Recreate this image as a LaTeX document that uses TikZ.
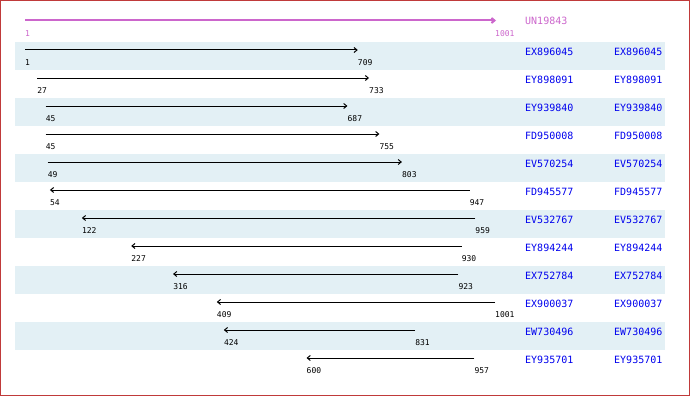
\documentclass[tikz,border=0pt]{standalone}
\usepackage{fontspec}
\setmainfont{DejaVu Sans Mono}
\newfontfamily\numfont{DejaVu Sans Mono}
\usetikzlibrary{arrows.meta}
\definecolor{band}{HTML}{E3F0F5}
\definecolor{frame}{HTML}{C03A3A}
\definecolor{hdr}{HTML}{CC66CC}
\definecolor{acc}{HTML}{0000EE}
\tikzset{
  seqline/.style={line width=1pt, -{Straight Barb[length=3pt,width=5pt]}},
  hdrline/.style={line width=2pt, color=hdr, -{Straight Barb[length=3pt,width=5pt]}},
  numlbl/.style={anchor=west, inner sep=0pt, font=\numfont\fontsize{8}{9}\selectfont},
  acclbl/.style={anchor=west, inner sep=0pt, text=acc, font=\fontsize{10}{12}\selectfont},
}
\begin{document}
\begin{tikzpicture}[x=1pt,y=-1pt]
\useasboundingbox (0,0) rectangle (690,396);
\fill[white] (0,0) rectangle (690,396);
% shaded bands
\foreach \r in {0,2,4,6,8,10}{
  \fill[band] (15,{42+28*\r}) rectangle (665,{70+28*\r});
}
% header
\coordinate (h1) at (25,20.5);
\coordinate (h2) at (496,20.5);
\draw[hdrline] (h1) -- (h2);
\node[numlbl, text=hdr] (hs) at (25,34) {1};
\node[numlbl, text=hdr] (he) at (495,34) {1001};
\node[acclbl, text=hdr] (hn) at (525,21) {UN19843};
% data rows
\foreach \i/\a/\b/\nm in {
  1/1/709/EX896045,
  2/27/733/EY898091,
  3/45/687/EY939840,
  4/45/755/FD950008,
  5/49/803/EV570254,
  6/54/947/FD945577,
  7/122/959/EV532767,
  8/227/930/EY894244,
  9/316/923/EX752784,
  10/409/1001/EX900037,
  11/424/831/EW730496,
  12/600/957/EY935701}{
  \pgfmathsetmacro{\t}{42+28*(\i-1)}
  \pgfmathsetmacro{\xa}{25+(\a-1)*0.47}
  \pgfmathsetmacro{\xb}{25+(\b-1)*0.47}
  \coordinate (s\i) at (\xa,\t+8);
  \coordinate (e\i) at (\xb,\t+8);
  \ifnum\i<6
    \draw[seqline] (s\i) -- (e\i);
  \else
    \draw[seqline] (e\i) -- (s\i);
  \fi
  \node[numlbl] (ls\i) at (\xa,\t+21) {\a};
  \node[numlbl] (le\i) at (\xb,\t+21) {\b};
  \node[acclbl] (n\i) at (525,\t+10) {\nm};
  \node[acclbl] (m\i) at (614,\t+10) {\nm};
}
\draw[frame, line width=1pt] (0.5,0.5) rectangle (689.5,395.5);
\end{tikzpicture}
\end{document}
